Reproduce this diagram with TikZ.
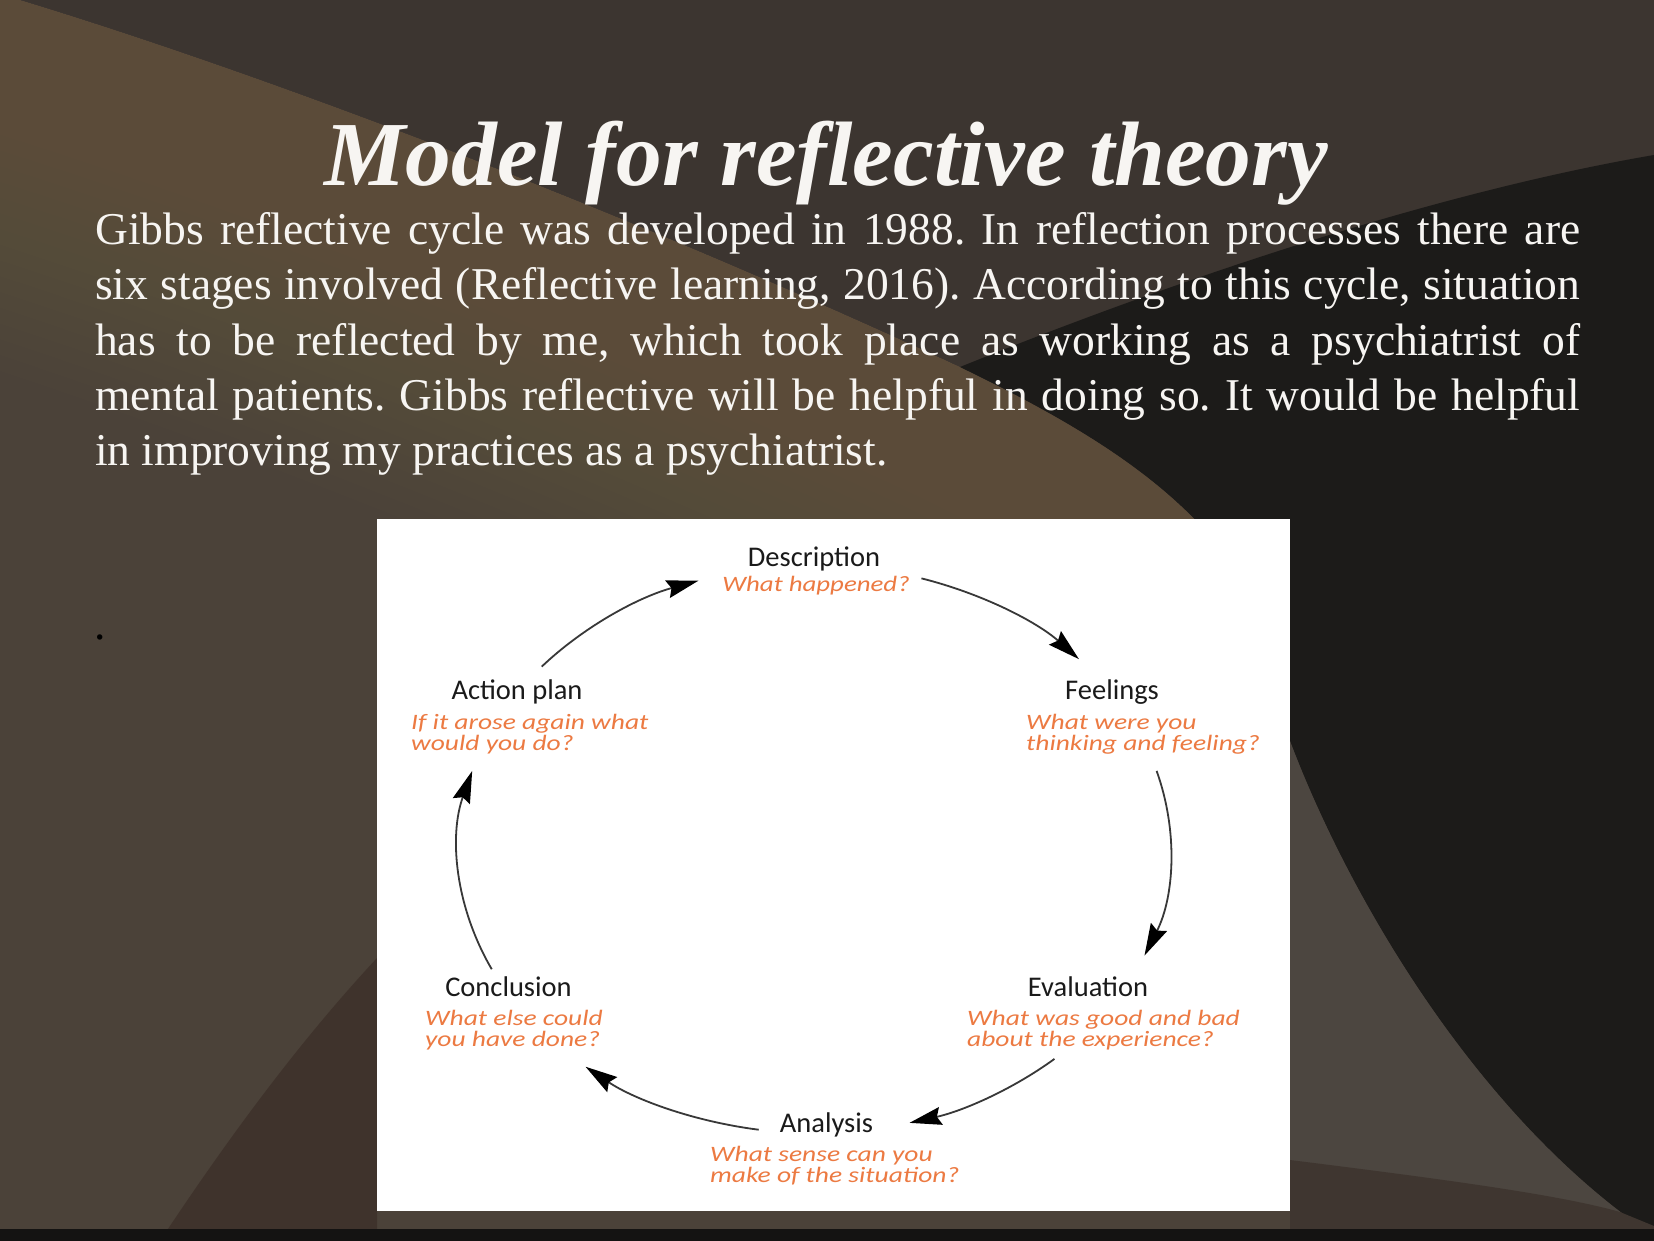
\documentclass[tikz,border=0pt]{standalone}
\usepackage{fontspec}
\usepackage{graphicx}
\setmainfont{Liberation Serif}
\newfontfamily\labfont{Carlito}
\usetikzlibrary{arrows.meta}
\definecolor{bgTop}{HTML}{3C3530}
\definecolor{bgLeft}{HTML}{4B4239}
\definecolor{bgLight}{HTML}{72624F}
\definecolor{bgDark}{HTML}{1C1B19}
\definecolor{bgWedge}{HTML}{4C4640}
\definecolor{bgLow}{HTML}{3F3630}
\definecolor{bgLowL}{HTML}{3F332C}
\definecolor{bgStrip}{HTML}{141312}
\definecolor{txt}{HTML}{F7F5F2}
\definecolor{lab}{HTML}{1A1A1A}
\definecolor{qcol}{HTML}{EC7A42}
\definecolor{arrcol}{HTML}{383838}
\newcommand{\qtext}[1]{\scalebox{1.25}[1]{\parbox[t]{280pt}{\lineskiplimit=-50pt #1}}}
\frenchspacing
\begin{document}
\begin{tikzpicture}[x=1pt,y=-1pt,
  bodyline/.style={anchor=base west, inner sep=0pt, text=txt, font=\fontsize{45.5}{55}\selectfont},
  stagelab/.style={anchor=base, inner sep=0pt, text=lab, font=\labfont\fontsize{28.5}{30}\selectfont},
  qlab/.style={anchor=base west, inner sep=0pt, text=qcol, font=\labfont\itshape\fontsize{22}{21}\selectfont},
  cyc/.style={draw=arrcol, line width=1.8pt, -{Stealth[length=32pt, width=18pt, inset=4pt, color=black]}}]
\useasboundingbox (0,0) rectangle (1654,1241);
% background
\fill[bgTop] (0,0) rectangle (1654,1241);
\fill[bgLeft] (0,0) -- (20,0) .. controls (250,70) and (600,200) .. (960,367) .. controls (1080,425) and (1170,480) .. (1230,560) .. controls (1260,620) and (1280,690) .. (1290,741) -- (1290,1241) -- (0,1241) -- cycle;
\begin{scope}
  \clip (0,0) -- (20,0) .. controls (250,70) and (600,200) .. (960,367) .. controls (1080,425) and (1170,480) .. (1230,560) .. controls (1260,620) and (1280,690) .. (1290,741) -- (1290,1241) -- (0,1241) -- cycle;
  \foreach \d in {15,30,...,360}{
    \fill[bgLight, fill opacity=0.045, shift={(-0.363*\d,0.932*\d)}] (-400,-163) -- (20,0) .. controls (250,70) and (600,200) .. (960,367) .. controls (1080,425) and (1170,480) .. (1230,560) .. controls (1260,620) and (1280,690) .. (1290,741) -- (2000,741) -- (2000,-1000) -- (-400,-1000) -- cycle;
  }
\end{scope}
\fill[bgDark] (1654,155) .. controls (1420,195) and (1150,290) .. (960,367) .. controls (1080,425) and (1170,480) .. (1230,560) .. controls (1260,620) and (1280,690) .. (1290,741) .. controls (1350,900) and (1480,1120) .. (1654,1236) -- cycle;
\fill[bgWedge] (1290,741) .. controls (1350,900) and (1480,1120) .. (1654,1236) -- (1654,1241) -- (1290,1241) -- cycle;
\fill[bgLow] (1290,1160) .. controls (1450,1180) and (1560,1195) .. (1620,1212) -- (1654,1226) -- (1654,1241) -- (1290,1241) -- cycle;
\fill[bgLowL] (160,1241) .. controls (240,1120) and (310,1030) .. (377,958) -- (377,1241) -- cycle;
\fill[bgStrip] (0,1229) rectangle (1654,1241);
% title and text
\node[anchor=base, inner sep=0pt, text=txt, font=\fontsize{91.5}{100}\selectfont\bfseries\itshape] (title) at (826,186) {Model for reflective theory};
\node[bodyline] (l1) at (95,245) {\makebox[1485pt][s]{Gibbs reflective cycle was developed in 1988. In reflection processes there are}};
\node[bodyline] (l2) at (95,300) {\makebox[1485pt][s]{six stages involved (Reflective learning, 2016). According to this cycle, situation}};
\node[bodyline] (l3) at (95,355) {\makebox[1485pt][s]{has to be reflected by me, which took place as working as a psychiatrist of}};
\node[bodyline] (l4) at (95,410) {\makebox[1485pt][s]{mental patients. Gibbs reflective will be helpful in doing so. It would be helpful}};
\node[bodyline] (l5) at (95,465) {in improving my practices as a psychiatrist.};
\node[anchor=base west, inner sep=0pt, text=black, font=\fontsize{45.5}{55}\selectfont] (dot) at (94,639) {.};
% picture box
\fill[white] (376.5,519) rectangle (1290,1211);
% stage labels
\node[stagelab] (desc) at (814,566) {Description};
\node[qlab, anchor=base] (descq) at (816,591) {\scalebox{1.22}[1]{What happened?}};
\node[stagelab] (feel) at (1112,699) {Feelings};
\node[qlab] (feelq) at (1026,729) {\qtext{What were you\\thinking and feeling?}};
\node[stagelab] (eval) at (1088,996) {Evaluation};
\node[qlab] (evalq) at (967,1025) {\qtext{What was good and bad\\about the experience?}};
\node[stagelab] (anal) at (826.5,1132) {Analysis};
\node[qlab] (analq) at (710,1161) {\qtext{What sense can you\\make of the situation?}};
\node[stagelab] (conc) at (508.5,996) {Conclusion};
\node[qlab] (concq) at (425,1025) {\qtext{What else could\\you have done?}};
\node[stagelab] (act) at (517,699) {Action plan};
\node[qlab] (actq) at (411,729) {\qtext{If it arose again what\\would you do?}};
% cycle arrows
\coordinate (C) at (814.4,849.2);
\path (C) ++(-72.5:356 and 284) coordinate (a1s);
\path (C) ++(-42:356 and 284) coordinate (a1e);
\path (C) ++(-16:356 and 284) coordinate (a2s);
\path (C) ++(22:356 and 284) coordinate (a2e);
\path (C) ++(47.6:356 and 284) coordinate (a3s);
\path (C) ++(74.5:356 and 284) coordinate (a3e);
\path (C) ++(99:356 and 284) coordinate (a4s);
\path (C) ++(130:356 and 284) coordinate (a4e);
\path (C) ++(155:356 and 284) coordinate (a5s);
\path (C) ++(196:356 and 284) coordinate (a5e);
\path (C) ++(220:356 and 284) coordinate (a6s);
\path (C) ++(251:356 and 284) coordinate (a6e);
\draw[cyc] (a1s) arc[start angle=-72.5, end angle=-42, x radius=356, y radius=284];
\draw[cyc] (a2s) arc[start angle=-16, end angle=22, x radius=356, y radius=284];
\draw[cyc] (a3s) arc[start angle=47.6, end angle=74.5, x radius=356, y radius=284];
\draw[cyc] (a4s) arc[start angle=99, end angle=130, x radius=356, y radius=284];
\draw[cyc] (a5s) arc[start angle=155, end angle=196, x radius=356, y radius=284];
\draw[cyc] (a6s) arc[start angle=220, end angle=251, x radius=356, y radius=284];
\end{tikzpicture}
\end{document}
